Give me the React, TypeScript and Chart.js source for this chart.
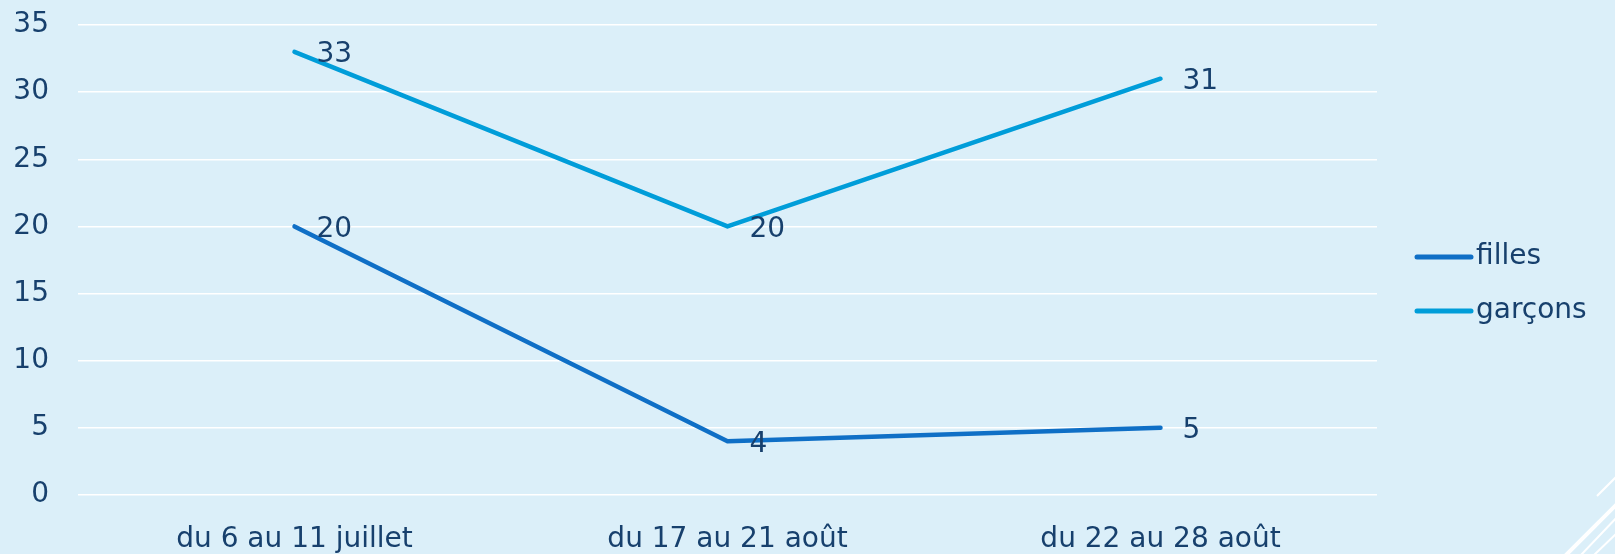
import React, { useEffect, useRef } from "react";
import { Chart, registerables } from "chart.js";

Chart.register(...registerables);

const categories = ["du 6 au 11 juillet", "du 17 au 21 août", "du 22 au 28 août"];
const filles = [20, 4, 5];
const garcons = [33, 20, 31];
const seriesNames = ["filles", "garçons"];
const seriesColors = ["#0F6FC6", "#009DD9"];
const yTicks = [0, 5, 10, 15, 20, 25, 30, 35];

const BG = "#DBEFF9";
const TEXT = "#17406D";
const FONT_FAMILY = "'DejaVu Sans', sans-serif";
const FONT_SIZE = 28;

const backgroundPlugin = {
  id: "bgDeco",
  beforeDraw(chart: any) {
    const { ctx, width, height } = chart;
    ctx.save();
    ctx.fillStyle = BG;
    ctx.fillRect(0, 0, width, height);
    ctx.strokeStyle = "#FFFFFF";
    const lines = [
      [1597, 496, 1620, 473, 2],
      [1565, 556, 1620, 501, 4],
      [1580, 556, 1620, 514, 2],
      [1593, 556, 1620, 530, 2],
    ];
    for (const [x1, y1, x2, y2, w] of lines) {
      ctx.lineWidth = w;
      ctx.beginPath();
      ctx.moveTo(x1, y1);
      ctx.lineTo(x2, y2);
      ctx.stroke();
    }
    ctx.restore();
  },
};

const labelsPlugin = {
  id: "valueLabels",
  afterDatasetsDraw(chart: any) {
    const { ctx } = chart;
    ctx.save();
    ctx.font = `${FONT_SIZE}px ${FONT_FAMILY}`;
    ctx.fillStyle = TEXT;
    ctx.textAlign = "left";
    ctx.textBaseline = "middle";
    chart.data.datasets.forEach((ds: any, i: number) => {
      const meta = chart.getDatasetMeta(i);
      meta.data.forEach((pt: any, j: number) => {
        ctx.fillText(String(ds.data[j]), pt.x + 22, pt.y + 3);
      });
    });
    ctx.restore();
  },
};

const legendPlugin = {
  id: "customLegend",
  afterDraw(chart: any) {
    const { ctx, chartArea, height } = chart;
    ctx.save();
    ctx.font = `${FONT_SIZE}px ${FONT_FAMILY}`;
    ctx.textAlign = "left";
    ctx.textBaseline = "middle";
    const x0 = chartArea.right + 40;
    const gap = 54;
    const n = chart.data.datasets.length;
    const yStart = height / 2 + 7 - ((n - 1) * gap) / 2;
    chart.data.datasets.forEach((ds: any, i: number) => {
      const y = yStart + i * gap;
      ctx.strokeStyle = ds.borderColor;
      ctx.lineWidth = 5;
      ctx.lineCap = "round";
      ctx.beginPath();
      ctx.moveTo(x0, y);
      ctx.lineTo(x0 + 54, y);
      ctx.stroke();
      ctx.fillStyle = TEXT;
      ctx.fillText(ds.label, x0 + 59, y);
    });
    ctx.restore();
  },
};

const zeroPadding = (scale: any) => {
  scale.paddingLeft = 0;
  scale.paddingRight = 0;
  scale.paddingTop = 0;
  scale.paddingBottom = 0;
};

export default function App() {
  const ref = useRef<HTMLCanvasElement | null>(null);

  useEffect(() => {
    if (!ref.current) return;
    const chart = new Chart(ref.current, {
      type: "line",
      data: {
        labels: categories,
        datasets: [
          {
            label: seriesNames[0],
            data: filles,
            borderColor: seriesColors[0],
            backgroundColor: seriesColors[0],
            borderWidth: 4.5,
            pointRadius: 0,
            tension: 0,
            borderCapStyle: "round",
            borderJoinStyle: "round",
          },
          {
            label: seriesNames[1],
            data: garcons,
            borderColor: seriesColors[1],
            backgroundColor: seriesColors[1],
            borderWidth: 4.5,
            pointRadius: 0,
            tension: 0,
            borderCapStyle: "round",
            borderJoinStyle: "round",
          },
        ],
      },
      options: {
        animation: false,
        responsive: false,
        maintainAspectRatio: false,
        layout: { padding: { left: 13, right: 238, top: 25, bottom: 0 } },
        plugins: {
          legend: { display: false },
          tooltip: { enabled: false },
        },
        scales: {
          x: {
            offset: true,
            grid: { display: false, drawTicks: false },
            border: { display: false },
            afterFit: (scale: any) => {
              zeroPadding(scale);
              scale.height = 59;
            },
            ticks: {
              color: TEXT,
              font: { family: FONT_FAMILY, size: FONT_SIZE },
              padding: 28,
              maxRotation: 0,
              autoSkip: false,
            },
          },
          y: {
            min: yTicks[0],
            max: yTicks[yTicks.length - 1],
            afterBuildTicks: (scale: any) => {
              scale.ticks = yTicks.map((v) => ({ value: v }));
            },
            afterFit: (scale: any) => {
              zeroPadding(scale);
              scale.width = 65;
            },
            grid: { color: "#FFFFFF", lineWidth: 1.5, drawTicks: false },
            border: { display: false },
            ticks: {
              color: TEXT,
              font: { family: FONT_FAMILY, size: FONT_SIZE },
              padding: 29,
            },
          },
        },
      },
      plugins: [backgroundPlugin, labelsPlugin, legendPlugin],
    });
    return () => chart.destroy();
  }, []);

  return (
    <div style={{ position: "fixed", left: 0, top: 0, width: 1615, height: 554, background: BG }}>
      <canvas ref={ref} width={1615} height={554} style={{ display: "block" }} />
    </div>
  );
}
